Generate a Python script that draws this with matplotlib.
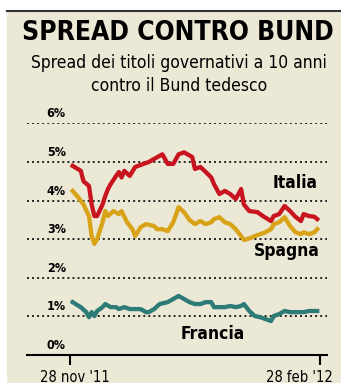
import matplotlib
matplotlib.use('Agg')
import matplotlib.pyplot as plt
from matplotlib.patches import Rectangle
from matplotlib.lines import Line2D

# days from 28 nov 2011, spread in %
italia_days = [1, 4, 5, 7, 8, 9, 10, 12, 13, 14, 15, 17, 18, 19, 20, 22, 24, 27, 29, 31,
               34, 36, 38, 40, 42, 45, 46, 48, 50, 52, 53, 55, 57, 59, 61, 63, 64, 66, 69,
               71, 74, 75, 77, 79, 81, 83, 85, 86, 88, 90, 91]
italia = [4.9, 4.77, 4.5, 4.38, 3.9, 3.6, 3.6, 3.9, 4.12, 4.3, 4.43, 4.64, 4.74, 4.6, 4.77,
          4.64, 4.87, 4.95, 5.0, 5.08, 5.2, 4.95, 4.95, 5.2, 5.25, 5.13, 4.82, 4.87, 4.74,
          4.6, 4.43, 4.17, 4.25, 4.17, 4.04, 4.3, 3.9, 3.73, 3.7, 3.6, 3.47, 3.6, 3.65, 3.86,
          3.73, 3.58, 3.47, 3.65, 3.6, 3.58, 3.52]

spagna_days = [1, 3, 5, 7, 8, 9, 10, 12, 13, 14, 16, 18, 19, 21, 23, 24, 26, 28, 31, 32,
               34, 36, 38, 40, 42, 44, 46, 48, 50, 52, 53, 55, 57, 59, 61, 63, 64, 66, 68,
               70, 72, 74, 75, 77, 79, 81, 83, 85, 86, 88, 90, 91]
spagna = [4.25, 4.09, 3.9, 3.6, 3.08, 2.88, 3.0, 3.44, 3.73, 3.6, 3.73, 3.65, 3.73, 3.44,
          3.26, 3.08, 3.31, 3.39, 3.34, 3.26, 3.26, 3.21, 3.44, 3.83, 3.7, 3.5, 3.39, 3.47,
          3.39, 3.44, 3.52, 3.57, 3.44, 3.39, 3.26, 3.08, 2.98, 3.02, 3.08, 3.13, 3.18, 3.26,
          3.39, 3.44, 3.57, 3.34, 3.18, 3.13, 3.18, 3.13, 3.18, 3.26]

francia_days = [1, 3, 4, 6, 7, 8, 9, 10, 12, 13, 15, 17, 18, 20, 22, 24, 26, 28, 29, 31,
                33, 36, 38, 40, 42, 44, 46, 48, 50, 52, 53, 55, 57, 59, 61, 63, 64, 66, 68,
                70, 72, 74, 75, 77, 79, 81, 83, 85, 86, 88, 90, 91]
francia = [1.37, 1.28, 1.24, 1.11, 0.98, 1.11, 1.01, 1.14, 1.24, 1.32, 1.24, 1.24, 1.19,
           1.24, 1.19, 1.19, 1.19, 1.11, 1.11, 1.19, 1.32, 1.37, 1.45, 1.53, 1.45, 1.37,
           1.32, 1.32, 1.37, 1.37, 1.24, 1.24, 1.24, 1.27, 1.24, 1.27, 1.32, 1.14, 1.01,
           0.98, 0.93, 0.88, 1.01, 1.06, 1.14, 1.11, 1.11, 1.11, 1.11, 1.14, 1.14, 1.14]

yticks = [0, 1, 2, 3, 4, 5, 6]
xticks = [0, 92]
xlabels = ["28 nov '11", "28 feb '12"]

W, H = 341, 383
bg = '#ece8d6'
red = '#c8141e'
yellow = '#d9a318'
teal = '#2c7b77'
fam = 'DejaVu Sans'
st = 'condensed'

fig = plt.figure(figsize=(W / 100, H / 100), dpi=100)
fig.patch.set_facecolor('white')

# beige panel with dark top rule
fig.patches.append(Rectangle((7 / W, 0), 1, 1 - 11 / H, transform=fig.transFigure,
                             facecolor=bg, edgecolor='none', zorder=-5))
fig.lines.append(Line2D([7 / W, 1], [1 - 11 / H, 1 - 11 / H], transform=fig.transFigure,
                        color='#333333', lw=1.5))

fig.text(178 / W, 1 - 33 / H, 'SPREAD CONTRO BUND', ha='center', va='center',
         family=fam, stretch=st, weight='bold', fontsize=19)
fig.text(179 / W, 1 - 63 / H, 'Spread dei titoli governativi a 10 anni', ha='center',
         va='center', family=fam, stretch=st, fontsize=12.5)
fig.text(179 / W, 1 - 86 / H, 'contro il Bund tedesco', ha='center', va='center',
         family=fam, stretch=st, fontsize=12.5)

ax = fig.add_axes([27 / W, 28 / H, 300 / W, (355 - 123.4) / H])
ax.set_zorder(2)
ax.set_facecolor('none')
ax.set_xlim(-15.8, 94.6)
ax.set_ylim(0, 6)

for v in yticks[1:]:
    ax.axhline(v, color='#222222', lw=1.4, ls=(0, (1, 1.6)), zorder=1)
for v in yticks:
    ax.text(-1.5, v + 0.08, '%d%%' % v, ha='right', va='bottom', fontsize=9,
            weight='bold', family=fam, stretch=st)

ax.plot(spagna_days, spagna, color=yellow, lw=3.1, solid_joinstyle='round', zorder=3)
ax.plot(italia_days, italia, color=red, lw=3.1, solid_joinstyle='round', zorder=4)
ax.plot(francia_days, francia, color=teal, lw=3.1, solid_joinstyle='round', zorder=3)

ax.text(91, 4.45, 'Italia', ha='right', va='center', fontsize=12.5, weight='bold',
        family=fam, stretch=st)
ax.text(92, 2.7, 'Spagna', ha='right', va='center', fontsize=12.5, weight='bold',
        family=fam, stretch=st)
ax.text(64.5, 0.55, 'Francia', ha='right', va='center', fontsize=12.5, weight='bold',
        family=fam, stretch=st)

for s in ['top', 'right', 'left']:
    ax.spines[s].set_visible(False)
ax.spines['bottom'].set_linewidth(1.5)
ax.set_yticks([])
ax.set_xticks(xticks)
ax.set_xticklabels([])
ax.tick_params(axis='x', direction='out', length=7, width=1.5, color='black')

fig.text(40 / W, 1 - 377 / H, xlabels[0], ha='left', va='center', fontsize=10.5,
         family=fam, stretch=st)
fig.text(333 / W, 1 - 377 / H, xlabels[1], ha='right', va='center', fontsize=10.5,
         family=fam, stretch=st)

fig.savefig('out.png', dpi=100, facecolor=fig.get_facecolor())
